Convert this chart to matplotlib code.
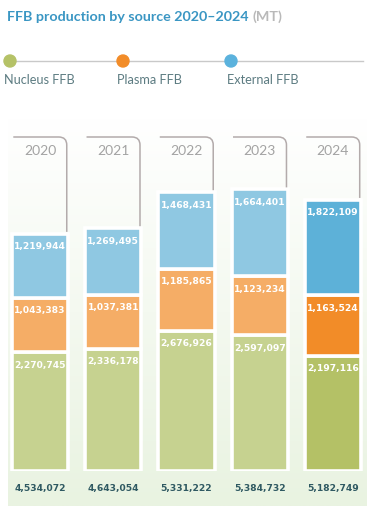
import matplotlib.pyplot as plt
import numpy as np
from matplotlib.path import Path
from matplotlib.patches import PathPatch, Circle
from matplotlib.transforms import IdentityTransform
from matplotlib.colors import LinearSegmentedColormap

years = ['2020', '2021', '2022', '2023', '2024']
nucleus = [2270745, 2336178, 2676926, 2597097, 2197116]
plasma = [1043383, 1037381, 1185865, 1123234, 1163524]
external = [1219944, 1269495, 1468431, 1664401, 1822109]
totals = [4534072, 4643054, 5331222, 5384732, 5182749]
series_names = ['Nucleus FFB', 'Plasma FFB', 'External FFB']

faded = ['#c6d290', '#f5ad66', '#8fc8e2']
strong = ['#b4c166', '#f28c28', '#5db1d8']
legend_cols = ['#b5c267', '#f28c28', '#5bb2dd']

W, H = 374, 512
fig = plt.figure(figsize=(W / 100, H / 100), dpi=100)
plt.rcParams['font.family'] = ['Lato', 'DejaVu Sans']


def fx(px):
    return px / W


def fy(py):
    return 1 - py / H


# background panel with gradient
bg = fig.add_axes([fx(8), fy(506), fx(367) - fx(8), fy(118) - fy(506)])
cmap = LinearSegmentedColormap.from_list('bg', ['#ffffff', '#e9f3e1'])
bg.imshow(np.linspace(0, 1, 256).reshape(-1, 1), aspect='auto', cmap=cmap,
          extent=[0, 1, 0, 1])
bg.axis('off')

# title
t = fig.text(fx(7), fy(17), 'FFB production by source 2020\u20132024', color='#3a96c3',
             fontsize=10.3, fontweight='bold', va='center', ha='left')
fig.canvas.draw()
bb = t.get_window_extent()
fig.text(fx(bb.x1 + 4), fy(17), '(MT)', color='#b9b9b9', fontsize=10.3,
         fontweight='bold', va='center', ha='left')

# legend
fig.add_artist(plt.Line2D([fx(4), fx(363)], [fy(61), fy(61)], color='#c9c9c9', lw=1,
                          transform=fig.transFigure))
for cx, lx, name, c in zip([10, 123, 231], [4, 117, 227], series_names, legend_cols):
    fig.add_artist(Circle((cx, H - 61), 6, color=c, transform=IdentityTransform(), zorder=3))
    fig.text(fx(lx), fy(80), name, color='#5d7c82', fontsize=9.2, va='center', ha='left')

# bars
scale = 52.3  # px per million
ax = fig.add_axes([fx(3.4), fy(471), fx(369.6) - fx(3.4), fy(130) - fy(471)])
ax.set_xlim(-0.5, 4.5)
ax.set_ylim(0, (471 - 130) / scale * 1e6)
ax.axis('off')

x = np.arange(len(years))
bottom = np.zeros(len(years))
for vals, k in zip([nucleus, plasma, external], range(3)):
    cols = [faded[k]] * 4 + [strong[k]]
    ax.bar(x, vals, bottom=bottom, width=0.765, color=cols, edgecolor='white', lw=2.6)
    for i, v in enumerate(vals):
        ax.annotate(f'{v:,}', (x[i], bottom[i] + v), xytext=(0, -6), textcoords='offset points',
                    ha='center', va='top', color='white', fontsize=6.6, fontweight='bold',
                    family='DejaVu Sans')
    bottom += np.array(vals)

for i, tot in enumerate(totals):
    ax.annotate(f'{tot:,}', (x[i], 0), xytext=(0, -12.5), textcoords='offset points',
                ha='center', va='center', color='#2f5962', fontsize=6.6, fontweight='bold',
                family='DejaVu Sans')

# year brackets
fig.canvas.draw()
for i, yr in enumerate(years):
    xl, ytop = ax.transData.transform((x[i] - 0.365, bottom[i]))
    xr, _ = ax.transData.transform((x[i] + 0.365, 0))
    ytop = min(ytop + 2, H - 176)
    yb = H - 137
    r = 8
    verts = [(xl, yb), (xr - r, yb), (xr, yb), (xr, yb - r), (xr, ytop)]
    codes = [Path.MOVETO, Path.LINETO, Path.CURVE3, Path.CURVE3, Path.LINETO]
    fig.add_artist(PathPatch(Path(verts, codes), fill=False, edgecolor='#b3abab', lw=1.1,
                             transform=IdentityTransform()))
    xc, _ = ax.transData.transform((x[i], 0))
    fig.text(fx(xc), fy(151), yr, color='#a3a3a3', fontsize=10, ha='center', va='center')

fig.savefig('out.png', dpi=100)
